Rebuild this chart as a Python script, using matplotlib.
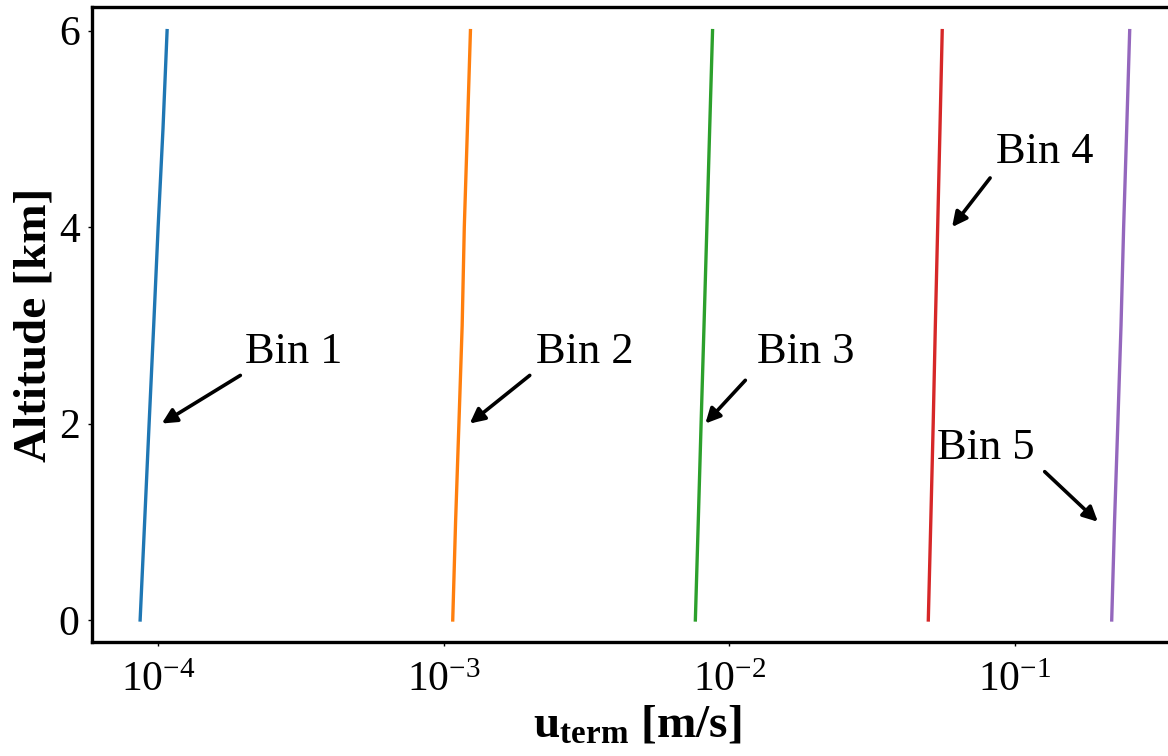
import numpy as np
import matplotlib
matplotlib.use("Agg")
import matplotlib.pyplot as plt
from matplotlib.ticker import FixedLocator, FixedFormatter, NullLocator

plt.rcParams['font.family'] = ['Liberation Serif', 'DejaVu Serif']
plt.rcParams['mathtext.fontset'] = 'custom'
plt.rcParams['mathtext.rm'] = 'Liberation Serif'
plt.rcParams['mathtext.it'] = 'Liberation Serif:italic'
plt.rcParams['mathtext.bf'] = 'Liberation Serif:bold'

# altitude levels [km] and terminal velocity per size bin [m/s]
altitude = [0, 1, 2, 3, 4, 5, 6]
u_bin1 = [8.65e-5, 8.97e-5, 9.30e-5, 9.65e-5, 1.00e-4, 1.04e-4, 1.075e-4]
u_bin2 = [1.075e-3, 1.10e-3, 1.13e-3, 1.16e-3, 1.18e-3, 1.21e-3, 1.24e-3]
u_bin3 = [7.60e-3, 7.78e-3, 7.96e-3, 8.15e-3, 8.34e-3, 8.53e-3, 8.73e-3]
u_bin4 = [0.0497, 0.0507, 0.0517, 0.0526, 0.0536, 0.0546, 0.0556]
u_bin5 = [0.218, 0.223, 0.229, 0.235, 0.240, 0.246, 0.252]

bin_names = ["Bin 1", "Bin 2", "Bin 3", "Bin 4", "Bin 5"]
# annotation: label position, arrow tail, arrow head (data coords)
label_xy = [(2.01e-4, 2.62), (2.11e-3, 2.62), (1.253e-2, 2.62), (0.0859, 4.65), (0.0533, 1.64)]
tail_xy = [(1.94e-4, 2.49), (2.0e-3, 2.49), (1.137e-2, 2.44), (0.0818, 4.50), (0.127, 1.51)]
head_xy = [(1.03e-4, 2.0), (1.233e-3, 2.0), (8.24e-3, 2.0), (0.0602, 4.0), (0.195, 1.0)]

xticks = [1e-4, 1e-3, 1e-2, 1e-1]
xtick_labels = [r'$\mathregular{10^{-4}}$', r'$\mathregular{10^{-3}}$',
                r'$\mathregular{10^{-2}}$', r'$\mathregular{10^{-1}}$']
yticks = [0, 2, 4, 6]

fig = plt.figure(figsize=(11.68, 7.56), dpi=100)
ax = fig.add_axes([0.0788, 0.1508, 1.003 - 0.0788, 0.9907 - 0.1508])

colors = ['#1f77b4', '#ff7f0e', '#2ca02c', '#d62728', '#9467bd']
for u, c in zip([u_bin1, u_bin2, u_bin3, u_bin4, u_bin5], colors):
    ax.plot(u, altitude, color=c, lw=2.4)

for name, lxy, txy, hxy in zip(bin_names, label_xy, tail_xy, head_xy):
    ax.text(lxy[0], lxy[1], name, fontsize=32, ha='left', va='baseline')
    ax.annotate('', xy=hxy, xytext=txy,
                arrowprops=dict(arrowstyle='-|>', color='k', lw=2.6,
                                mutation_scale=22, shrinkA=0, shrinkB=0))

ax.set_xscale('log')
ax.set_xlim(5.87e-5, 0.353)
ax.set_ylim(-0.224, 6.24)
ax.xaxis.set_major_locator(FixedLocator(xticks))
ax.xaxis.set_major_formatter(FixedFormatter(xtick_labels))
ax.xaxis.set_minor_locator(NullLocator())
ax.set_yticks(yticks)
ax.tick_params(axis='both', labelsize=30, length=3, width=1)
ax.tick_params(axis='x', pad=11)
ax.tick_params(axis='y', pad=6)

for sp in ax.spines.values():
    sp.set_linewidth(2.4)

ax.set_xlabel(r'$\mathbf{u_{term}}$ [m/s]', fontsize=34, fontweight='bold')
ax.xaxis.set_label_coords(0.505, -0.099)
ax.xaxis.label.set_va('top')
ax.set_ylabel('Altitude [km]', fontsize=34, fontweight='bold')
ax.yaxis.set_label_coords(-0.053, 0.5)
ax.yaxis.label.set_va('center')

fig.savefig('out.png', dpi=100)
